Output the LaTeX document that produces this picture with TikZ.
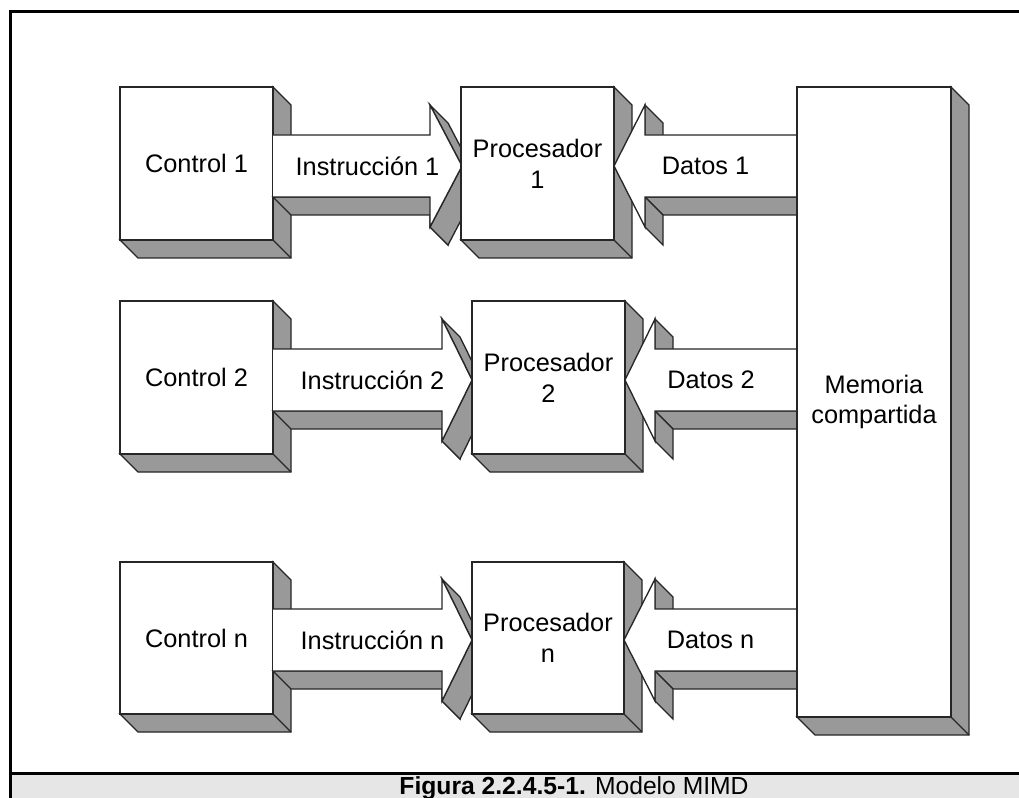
\documentclass[tikz,border=0pt]{standalone}
\usepackage{fontspec}
\setmainfont{Liberation Sans}
\newfontfamily\capfont{Liberation Sans}
\definecolor{sidegray}{HTML}{999999}
\definecolor{capgray}{HTML}{E6E6E6}
\definecolor{edgecol}{HTML}{262626}

% caja 3D: cara de (#1,#2) a (#3,#4), profundidad 18
\newcommand{\caja}[4]{%
  \filldraw[side] (#3,#2) -- ++(18,18) -- ({#3+18},{#4+18}) -- ({#1+18},{#4+18})
    -- (#1,#4) -- (#3,#4) -- cycle;
  \draw[side] (#3,#4) -- ++(18,18);
  \filldraw[face] (#1,#2) rectangle (#3,#4);
}
% flecha hacia la derecha: cola #1, base de la punta #2, punta #3, centro #4
\newcommand{\flechader}[4]{%
  \filldraw[side] (#2,{#4+31}) -- (#2,{#4+61}) -- ++(18,18) -- ({#2+18},{#4+49}) -- cycle;
  \filldraw[side] (#1,{#4+31}) -- (#2,{#4+31}) -- ++(18,18) -- ({#1+18},{#4+49}) -- cycle;
  \filldraw[side] (#2,{#4-61}) -- (#3,#4) -- ++(18,18) -- ({#2+18},{#4-43}) -- cycle;
  \filldraw[side] (#3,#4) -- (#2,{#4+61}) -- ++(18,18) -- ({#3+18},{#4+18}) -- cycle;
  \fill[white] (#1,{#4-31}) -- (#2,{#4-31}) -- (#2,{#4-61}) -- (#3,#4) -- (#2,{#4+61})
    -- (#2,{#4+31}) -- (#1,{#4+31}) -- cycle;
  \draw[edge] (#1,{#4-31}) -- (#2,{#4-31}) -- (#2,{#4-61}) -- (#3,#4) -- (#2,{#4+61})
    -- (#2,{#4+31}) -- (#1,{#4+31});
}
% flecha hacia la izquierda
\newcommand{\flechaizq}[4]{%
  \filldraw[side] (#1,{#4+31}) -- (#2,{#4+31}) -- ++(18,18) -- ({#1+18},{#4+49}) -- cycle;
  \filldraw[side] (#2,{#4-61}) -- ++(18,18) -- ({#2+18},{#4-13}) -- (#2,{#4-31}) -- cycle;
  \filldraw[side] (#2,{#4+31}) -- ++(18,18) -- ({#2+18},{#4+79}) -- (#2,{#4+61}) -- cycle;
  \fill[white] (#1,{#4-31}) -- (#2,{#4-31}) -- (#2,{#4-61}) -- (#3,#4) -- (#2,{#4+61})
    -- (#2,{#4+31}) -- (#1,{#4+31}) -- cycle;
  \draw[edge] (#1,{#4-31}) -- (#2,{#4-31}) -- (#2,{#4-61}) -- (#3,#4) -- (#2,{#4+61})
    -- (#2,{#4+31}) -- (#1,{#4+31});
}

\begin{document}
\begin{tikzpicture}[x=0.75pt,y=-0.75pt,
    edge/.style={draw=edgecol,line width=1pt},
    side/.style={edge,fill=sidegray},
    face/.style={edge,fill=white},
    lbl/.style={font=\fontsize{19}{23}\selectfont,align=center,inner sep=0pt}]
  \useasboundingbox (0,0) rectangle (1019,798);
  % marco y pie
  \fill[capgray] (10,773) rectangle (1019,798);
  \draw[line width=2.25pt] (10,798) -- (10,12) -- (1019,12);
  \draw[line width=2.25pt] (10,773) -- (1019,773);
  \node[anchor=base,inner sep=0pt,font=\capfont\fontsize{18.5}{22}\selectfont] (cap) at (574,794)
    {\textbf{Figura 2.2.4.5-1.} Modelo MIMD};

  % fila 1
  \caja{120}{87}{273}{240}
  \flechader{273}{430}{462}{166}
  \caja{461}{87}{614}{240}
  \flechaizq{797}{645}{614}{166}
  % fila 2
  \caja{120}{301}{273}{454}
  \flechader{273}{442}{472}{380}
  \caja{472}{301}{625}{454}
  \flechaizq{797}{655}{625}{380}
  % fila n
  \caja{120}{562}{273}{714}
  \flechader{273}{442}{472}{640}
  \caja{472}{562}{624}{714}
  \flechaizq{797}{655}{624}{640}
  % memoria
  \caja{797}{87}{951}{717}

  \node[lbl] (ctl1) at (196.5,163.5) {Control 1};
  \node[lbl] (ins1) at (367.5,166) {Instrucción 1};
  \node[lbl] (pro1) at (537.5,163.5) {Procesador\\1};
  \node[lbl] (dat1) at (705.5,166) {Datos 1};
  \node[lbl] (ctl2) at (196.5,377.5) {Control 2};
  \node[lbl] (ins2) at (372.5,380) {Instrucción 2};
  \node[lbl] (pro2) at (548.5,377.5) {Procesador\\2};
  \node[lbl] (dat2) at (711,380) {Datos 2};
  \node[lbl] (ctln) at (196.5,638) {Control n};
  \node[lbl] (insn) at (372.5,640) {Instrucción n};
  \node[lbl] (pron) at (548,638) {Procesador\\n};
  \node[lbl] (datn) at (710.5,640) {Datos n};
  \node[lbl] (mem) at (874,402) {Memoria\\compartida};
\end{tikzpicture}
\end{document}
